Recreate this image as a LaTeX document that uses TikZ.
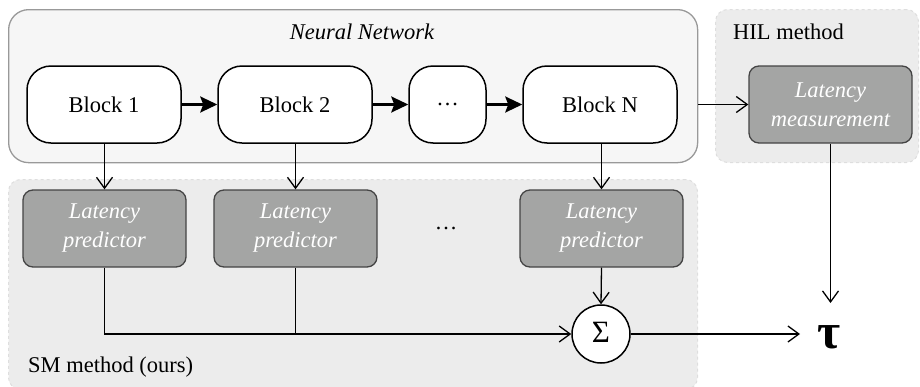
\documentclass[tikz,border=0pt]{standalone}
\usepackage{fontspec}
\setmainfont{Liberation Serif}
\usetikzlibrary{arrows.meta}
\definecolor{nnfill}{HTML}{F6F6F6}
\definecolor{nnline}{HTML}{999999}
\definecolor{grpfill}{HTML}{ECECEC}
\definecolor{grpline}{HTML}{DEDEDE}
\definecolor{predfill}{HTML}{A4A5A4}
\definecolor{predline}{HTML}{444444}
\tikzset{
  nnbox/.style={draw=nnline, fill=nnfill, line width=1.3pt, rounded corners=20pt, anchor=north west, inner sep=0pt},
  grpbox/.style={draw=grpline, fill=grpfill, dashed, line width=1pt, rounded corners=12pt, anchor=north west, inner sep=0pt},
  blockbox/.style={draw=black, fill=white, line width=1.5pt, rounded corners=24pt, minimum height=77pt, font=\fontsize{22.5}{27}\selectfont},
  predbox/.style={draw=predline, fill=predfill, line width=1.3pt, rounded corners=10pt, minimum width=163pt, minimum height=77pt, align=center, text=white, font=\fontsize{22.5}{29}\selectfont\itshape},
  lbl/.style={font=\fontsize{22.5}{27}\selectfont, inner sep=0pt},
  thickarr/.style={line width=2.5pt, -{Stealth[length=17pt,width=16pt,inset=3pt]}},
  thinarr/.style={line width=1.3pt, -{Straight Barb[length=11pt,width=16pt]}},
  thinline/.style={line width=1.3pt}
}
\begin{document}
\begin{tikzpicture}[x=1pt,y=-1pt]
\useasboundingbox (0,0) rectangle (920,386);
% containers
\node[nnbox, minimum width=689pt, minimum height=153pt] (nn) at (8,9) {};
\node[grpbox, minimum width=203pt, minimum height=153pt] (hil) at (715,9) {};
\node[grpbox, minimum width=689pt, minimum height=210pt] (sm) at (8,179) {};
% labels
\node[lbl, font=\fontsize{22.5}{27}\selectfont\itshape] (nnlbl) at (362,32) {Neural Network};
\node[lbl, anchor=west] (hillbl) at (733,32) {HIL method};
\node[lbl, anchor=west] (smlbl) at (28,367) {SM method (ours)};
% blocks
\node[blockbox, minimum width=154pt] (b1) at (104,104.5) {Block 1};
\node[blockbox, minimum width=154pt] (b2) at (295,104.5) {Block 2};
\node[blockbox, minimum width=77pt] (bd) at (447.5,104.5) {…};
\node[blockbox, minimum width=154pt] (bN) at (600,104.5) {Block N};
% latency measurement
\node[predbox] (lm) at (830.5,104.5) {Latency\\measurement};
% predictors
\node[predbox] (p1) at (104.5,228.5) {Latency\\predictor};
\node[predbox] (p2) at (295.5,228.5) {Latency\\predictor};
\node[predbox] (p3) at (601.5,228.5) {Latency\\predictor};
\node[lbl] (pdots) at (446,228) {…};
% sum
\node[circle, draw=black, fill=white, line width=1.5pt, minimum size=58pt, inner sep=0pt] (sig) at (601,334) {};
\node[inner sep=0pt, anchor=base, font=\fontsize{31}{34}\selectfont] (sigtxt) at (601,342) {Σ};
% tau
\node[inner sep=0pt, anchor=base, font=\fontsize{50}{54}\selectfont\bfseries] (tau) at (829,348) {τ};
\coordinate (tauTop) at (830.5,303);
\coordinate (tauLeft) at (800,334);
% arrows between blocks
\draw[thickarr] (b1) -- (b2);
\draw[thickarr] (b2) -- (bd);
\draw[thickarr] (bd) -- (bN);
% NN to HIL
\draw[thinarr] (nn.east |- lm.west) -- (lm.west);
% blocks to predictors
\draw[thinarr] (b1.south -| p1.north) -- (p1.north);
\draw[thinarr] (b2.south -| p2.north) -- (p2.north);
\draw[thinarr] (bN.south -| p3.north) -- (p3.north);
% predictors to sum
\draw[thinline] (p1.south) -- (p1.south |- sig.west) -- (p2.south |- sig.west);
\draw[thinline] (p2.south) -- (p2.south |- sig.west);
\draw[thinarr] (p2.south |- sig.west) -- (sig.west);
\draw[thinarr] (p3.south) -- (sig.north);
% outputs
\draw[thinarr] (sig.east) -- (tauLeft);
\draw[thinarr] (lm.south) -- (tauTop);
\end{tikzpicture}
\end{document}
